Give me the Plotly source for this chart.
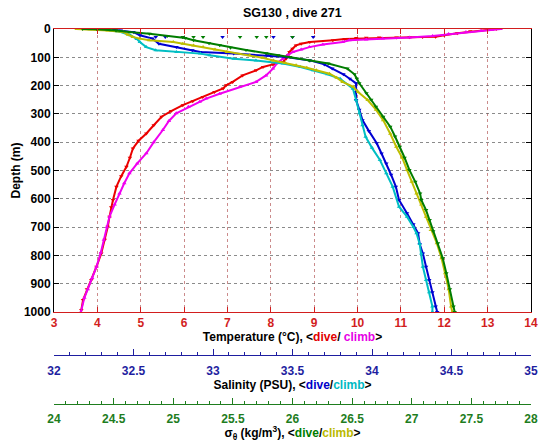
import plotly.graph_objects as go

# ---------------- data ----------------
# Temperature, dive (red, triangle-down)
temp_dive_depth = [0, 3, 8, 15, 22, 27, 28, 29, 30, 30, 31, 32, 35, 40, 46, 52, 58, 70, 81, 93, 105, 117,
                   125, 134, 146, 164, 187, 199, 210, 223, 240, 255, 269, 290, 310, 340, 369, 395, 422,
                   455, 487, 520, 557, 604, 630, 663, 699, 745, 793, 840, 887, 920, 958, 993]
temp_dive = [13.2, 13.0, 12.6, 12.3, 12.0, 11.8, 11.5, 11.2, 10.9, 10.5, 10.2, 9.97, 9.7, 9.43, 8.9, 8.7,
             8.58, 8.5, 8.43, 8.4, 8.35, 8.28, 8.05, 7.82, 7.66, 7.35, 7.12, 6.97, 6.9, 6.7, 6.43, 6.2,
             5.97, 5.7, 5.48, 5.3, 5.13, 4.95, 4.82, 4.75, 4.67, 4.55, 4.44, 4.36, 4.32, 4.28, 4.24,
             4.17, 4.09, 3.98, 3.86, 3.76, 3.67, 3.63]

# Temperature, climb (magenta, triangle-up)
temp_climb_depth = [0, 3, 6, 11, 18, 25, 30, 34, 37, 40, 46, 55, 64, 72, 81, 93, 105, 120, 140, 164, 187,
                    205, 229, 246, 257, 275, 298, 325, 357, 400, 439, 475, 510, 545, 581, 620, 663, 700,
                    745, 790, 840, 880, 920, 950, 1000]
temp_climb = [13.3, 13.1, 12.85, 12.5, 12.1, 11.73, 11.2, 10.58, 10.2, 9.81, 9.66, 9.2, 8.89, 8.7, 8.51,
              8.38, 8.28, 8.15, 8.05, 7.89, 7.66, 7.28, 6.82, 6.51, 6.36, 6.1, 5.82, 5.65, 5.51, 5.3,
              5.13, 4.92, 4.74, 4.62, 4.51, 4.4, 4.28, 4.22, 4.15, 4.08, 3.98, 3.88, 3.78, 3.7, 3.62]

# Salinity, dive (blue, triangle-down)
sal_dive_depth = [0, 2, 5, 11, 22, 34, 52, 64, 75, 81, 87, 93, 99, 111, 125, 140, 160, 176, 192, 223, 251,
                  285, 322, 360, 404, 440, 475, 515, 557, 604, 651, 690, 722, 760, 793, 840, 887, 930,
                  981, 1000]
sal_dive = [32.33, 32.37, 32.42, 32.5, 32.54, 32.62, 32.66, 32.77, 32.87, 32.92, 33.13, 33.34, 33.46,
            33.61, 33.7, 33.75, 33.82, 33.86, 33.9, 33.9, 33.9, 33.92, 33.94, 33.98, 34.03, 34.06, 34.09,
            34.12, 34.15, 34.17, 34.22, 34.26, 34.29, 34.3, 34.32, 34.34, 34.36, 34.38, 34.4, 34.41]
sal_dive_sparse_depth = [28, 28, 28, 28, 28, 28, 28]
sal_dive_sparse = [32.64, 32.7, 32.81, 33.06, 33.38, 33.5, 33.63]

# Salinity, climb (cyan, triangle-up)
sal_climb_depth = [0, 5, 11, 22, 35, 46, 64, 75, 81, 87, 93, 105, 111, 122, 134, 146, 160, 176, 211, 251,
                   298, 340, 381, 420, 463, 510, 557, 628, 663, 700, 722, 760, 793, 840, 887, 930, 981,
                   1000]
sal_climb = [32.3, 32.36, 32.42, 32.48, 32.52, 32.54, 32.58, 32.64, 32.77, 32.92, 32.98, 33.13, 33.27,
             33.44, 33.55, 33.63, 33.72, 33.8, 33.88, 33.9, 33.92, 33.94, 33.96, 34.0, 34.05, 34.09,
             34.13, 34.17, 34.22, 34.26, 34.28, 34.3, 34.31, 34.32, 34.34, 34.36, 34.38, 34.38]

# Sigma-theta, dive (green, triangle-down)
sig_dive_depth = [0, 1, 5, 11, 17, 25, 32, 40, 50, 57, 66, 74, 86, 93, 99, 111, 122, 140, 160, 176, 192,
                  227, 250, 275, 310, 345, 380, 416, 455, 498, 540, 581, 604, 640, 675, 715, 757, 810,
                  863, 920, 981, 1000]
sig_dive = [24.24, 24.36, 24.52, 24.63, 24.8, 24.95, 25.1, 25.17, 25.3, 25.39, 25.48, 25.61, 25.78,
            25.88, 25.98, 26.14, 26.3, 26.46, 26.52, 26.54, 26.56, 26.62, 26.66, 26.7, 26.76, 26.82,
            26.86, 26.9, 26.94, 26.98, 27.03, 27.07, 27.08, 27.12, 27.15, 27.18, 27.22, 27.26, 27.29,
            27.32, 27.35, 27.36]
sig_dive_sparse_depth = [28, 28, 28, 28, 28, 28, 28]
sig_dive_sparse = [25.08, 25.17, 25.25, 25.56, 25.7, 25.78, 26.0]

# Sigma-theta, climb (olive, triangle-up)
sig_climb_depth = [0, 1, 5, 11, 20, 28, 34, 40, 46, 52, 58, 64, 72, 81, 93, 102, 111, 120, 128, 137, 146,
                   158, 172, 187, 204, 223, 251, 285, 322, 370, 416, 455, 498, 540, 581, 620, 663, 710,
                   757, 810, 863, 920, 981, 1000]
sig_climb = [24.19, 24.3, 24.45, 24.58, 24.62, 24.66, 24.72, 24.8, 25.0, 25.08, 25.17, 25.25, 25.35,
             25.45, 25.64, 25.75, 25.84, 25.94, 26.03, 26.12, 26.2, 26.31, 26.37, 26.42, 26.51, 26.55,
             26.63, 26.7, 26.76, 26.82, 26.87, 26.92, 26.96, 27.0, 27.04, 27.08, 27.12, 27.16, 27.21,
             27.25, 27.28, 27.31, 27.33, 27.34]

depth_ticks = list(range(0, 1001, 100))
chart_title = 'SG130 , dive 271'

# ---------------- styling ----------------
RED = 'rgb(235,0,0)'
MAG = 'rgb(240,0,240)'
BLUE = 'rgb(0,0,210)'
CYAN = 'rgb(0,190,195)'
GREEN = 'rgb(0,125,0)'
OLIVE = 'rgb(190,190,0)'
AX_RED = 'rgb(210,30,30)'
AX_BLUE = 'rgb(30,30,160)'
AX_GREEN = 'rgb(30,125,30)'
FONT = 'Liberation Sans, Arial, Helvetica, sans-serif'

fig = go.Figure()


def add(x, y, color, sym, xaxis, mode='lines+markers'):
    fig.add_trace(go.Scatter(
        x=x, y=y, mode=mode, xaxis=xaxis, yaxis='y',
        marker=dict(symbol=sym, size=4, color=color, line=dict(width=0)),
        line=dict(color=color, width=2),
        showlegend=False, hoverinfo='skip'))


add(sal_dive, sal_dive_depth, BLUE, 'triangle-down', 'x2')
add(sal_dive_sparse, sal_dive_sparse_depth, BLUE, 'triangle-down', 'x2', mode='markers')
add(sal_climb, sal_climb_depth, CYAN, 'triangle-up', 'x2')
add(sig_climb, sig_climb_depth, OLIVE, 'triangle-up', 'x3')
add(sig_dive, sig_dive_depth, GREEN, 'triangle-down', 'x3')
add(sig_dive_sparse, sig_dive_sparse_depth, GREEN, 'triangle-down', 'x3', mode='markers')
add(temp_dive, temp_dive_depth, RED, 'triangle-down', 'x')
add(temp_climb, temp_climb_depth, MAG, 'triangle-up', 'x')

H = 442
paper_bottom = 404
paper_top = 29
ph = paper_bottom - paper_top
main_bottom = (paper_bottom - 312) / ph
sal_pos = (paper_bottom - 355) / ph

fig.add_annotation(text=chart_title, xref='paper', yref='paper', x=0.5, y=1,
                   xanchor='center', yanchor='bottom', yshift=7, showarrow=False,
                   font=dict(family=FONT, size=12.5, color='black', weight='bold'))

fig.update_layout(
    width=543, height=H,
    margin=dict(l=54, r=12, t=paper_top, b=H - paper_bottom, autoexpand=False),
    paper_bgcolor='white', plot_bgcolor='white',
    font=dict(family=FONT, size=12, color='black', weight='bold'),
    yaxis=dict(domain=[main_bottom, 1], range=[1000, 0], tickvals=depth_ticks,
               ticks='inside', ticklen=5, tickcolor='black', automargin=False,
               showline=True, linecolor='black', linewidth=1, mirror='ticks',
               showgrid=True, gridcolor='rgba(100,100,100,0.75)', griddash='dot', gridwidth=1,
               zeroline=False, tickfont=dict(size=12, color='black', weight='bold'),
               title=dict(text='Depth (m)', standoff=0,
                          font=dict(size=12, color='black', weight='bold'))),
    xaxis=dict(range=[3, 14], dtick=1, ticks='inside', ticklen=5, tickcolor=AX_RED, automargin=False,
               showline=True, linecolor=AX_RED, linewidth=1, mirror='ticks',
               showgrid=True, gridcolor='rgba(190,110,110,0.8)', griddash='dot', gridwidth=1,
               zeroline=False, tickfont=dict(size=12, color=AX_RED, weight='bold'),
               title=dict(text='Temperature (°C), &lt;<span style="color:rgb(225,0,0)">dive</span>/ '
                               '<span style="color:rgb(230,0,230)">climb</span>&gt;',
                          standoff=3, font=dict(size=12, color='black', weight='bold'))),
    xaxis2=dict(overlaying='x', anchor='free', position=sal_pos, side='bottom', automargin=False,
                range=[32, 35], dtick=0.5, ticks='inside', ticklen=6, tickcolor=AX_BLUE,
                minor=dict(dtick=0.1, ticks='inside', ticklen=3, tickcolor=AX_BLUE),
                showline=True, linecolor=AX_BLUE, linewidth=1, showgrid=False, zeroline=False,
                ticklabelstandoff=5,
                tickfont=dict(size=12, color=AX_BLUE, weight='bold'),
                title=dict(text='Salinity (PSU), &lt;<span style="color:rgb(0,0,200)">dive</span>/'
                                '<span style="color:rgb(0,185,195)">climb</span>&gt;',
                           standoff=2, font=dict(size=12, color='black', weight='bold'))),
    xaxis3=dict(overlaying='x', anchor='free', position=0, side='bottom', automargin=False,
                range=[24, 28], dtick=0.5, ticks='inside', ticklen=6, tickcolor=AX_GREEN,
                minor=dict(dtick=0.1, ticks='inside', ticklen=3, tickcolor=AX_GREEN),
                showline=True, linecolor=AX_GREEN, linewidth=1, showgrid=False, zeroline=False,
                ticklabelstandoff=4,
                tickfont=dict(size=12, color=AX_GREEN, weight='bold'),
                title=dict(text='σ<sub>θ</sub> (kg/m<sup>3</sup>), &lt;'
                                '<span style="color:rgb(0,125,0)">dive</span>/'
                                '<span style="color:rgb(185,185,0)">climb</span>&gt;',
                           standoff=5, font=dict(size=12, color='black', weight='bold'))),
)

fig.write_html('out.html',
               config={'displayModeBar': False, 'staticPlot': True},
               post_script="document.body.style.margin='0';document.body.style.padding='0';"
                           "document.documentElement.style.overflow='hidden';")
